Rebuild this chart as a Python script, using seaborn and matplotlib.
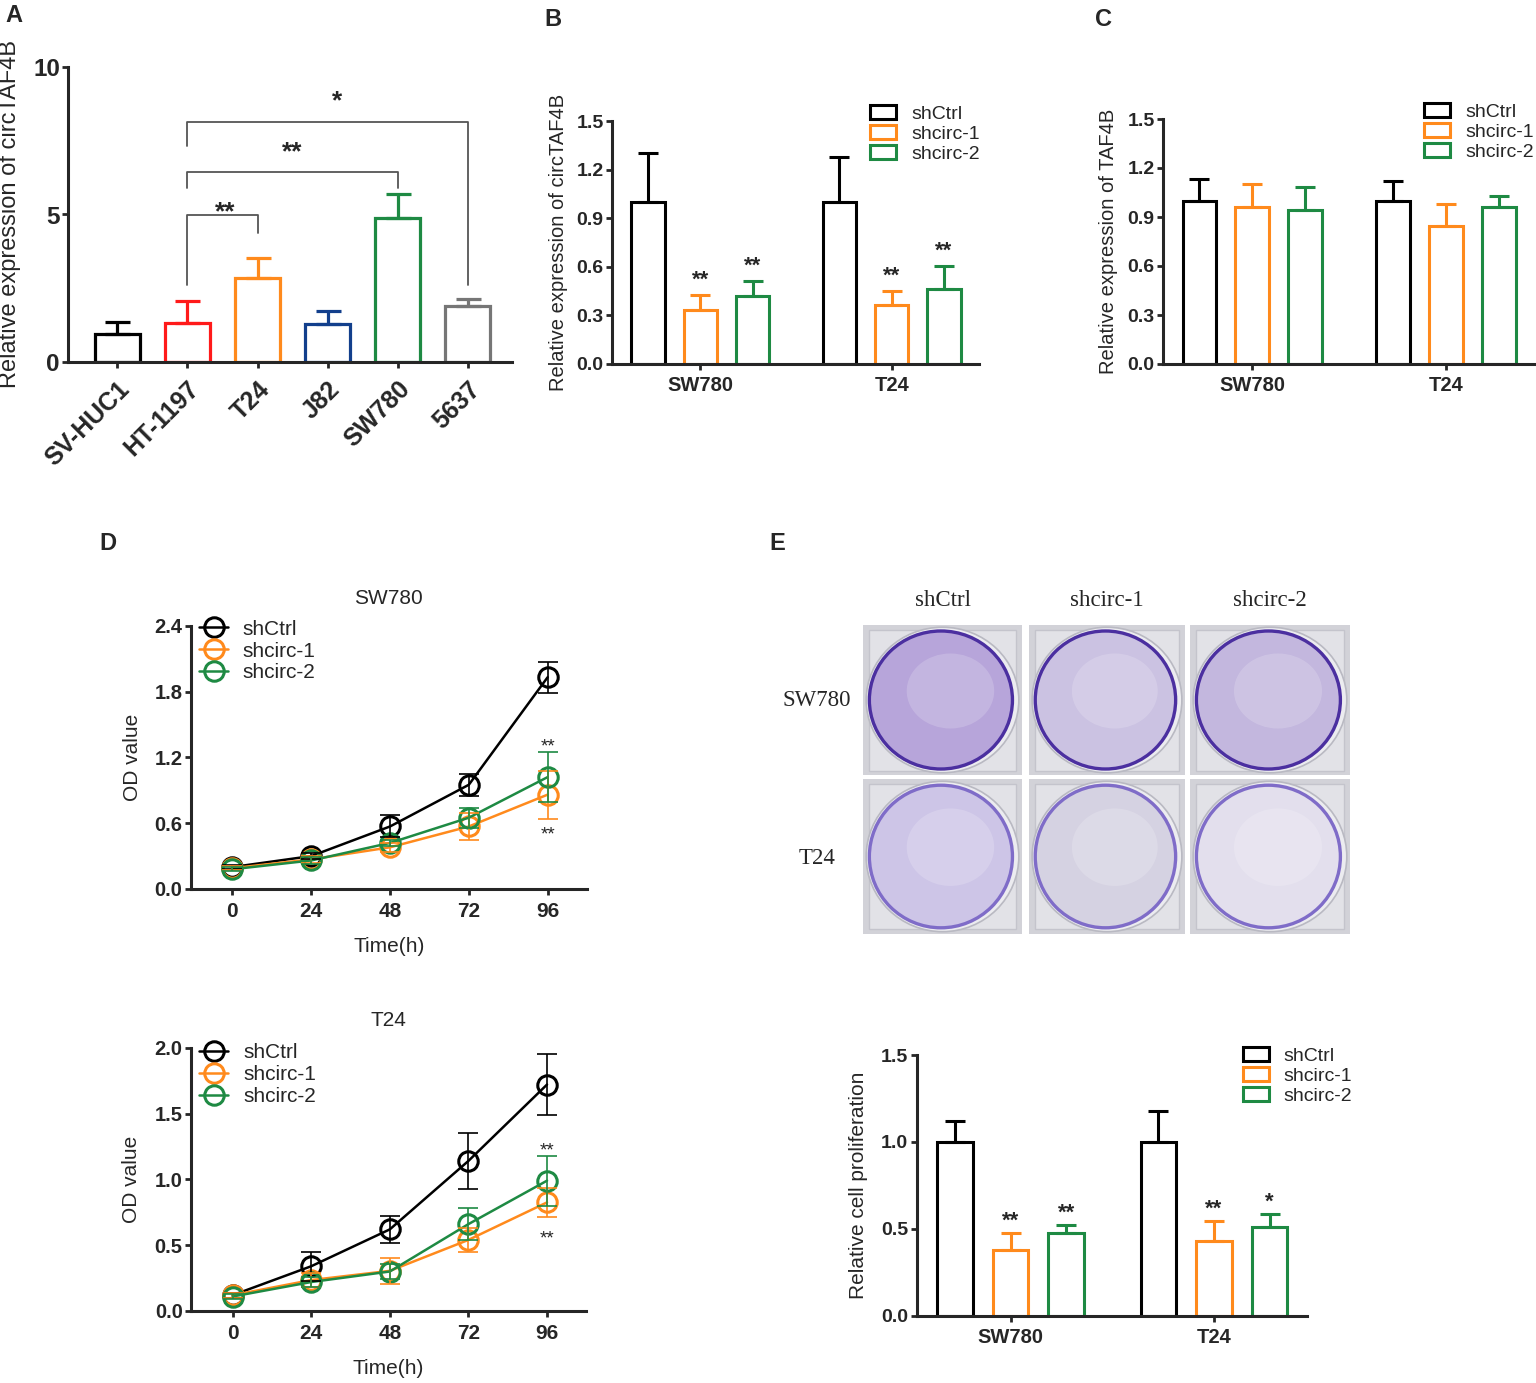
import numpy as np
import pandas as pd
import seaborn as sns
import matplotlib.pyplot as plt
from matplotlib.patches import Patch, Ellipse, Rectangle
from matplotlib.lines import Line2D
from matplotlib.container import BarContainer

# ---- data ----
groups = ['shCtrl', 'shcirc-1', 'shcirc-2']
group_colors = ['#000000', '#ff8a1c', '#1e8a43']
cell_lines = ['SW780', 'T24']

# A: circTAF4B in cell lines
a_cells = ['SV-HUC1', 'HT-1197', 'T24', 'J82', 'SW780', '5637']
a_mean = [0.97, 1.34, 2.84, 1.31, 4.87, 1.91]
a_err = [0.40, 0.74, 0.70, 0.41, 0.81, 0.24]
a_colors = ['#000000', '#ff1a1a', '#ff8a1c', '#123f8c', '#1e8a43', '#767676']
a_pairs = [(1, 2), (1, 4), (1, 5)]
a_bracket_y = [4.98, 6.43, 8.12]
a_leg_left = [2.61, 5.91, 7.33]
a_leg_right = [4.36, 5.91, 2.61]
a_stars = ['**', '**', '*']
a_star_x = [1.54, 2.49, 3.14]
a_star_y = [5.35, 7.38, 9.1]

# B: circTAF4B after knockdown
b_mean = [[1.0, 1.0], [0.333, 0.364], [0.42, 0.465]]
b_err = [[0.30, 0.28], [0.093, 0.086], [0.092, 0.14]]
b_stars = [['', ''], ['**', '**'], ['**', '**']]

# C: TAF4B after knockdown
c_mean = [[1.0, 1.0], [0.963, 0.845], [0.941, 0.961]]
c_err = [[0.13, 0.12], [0.137, 0.135], [0.143, 0.066]]
c_stars = [['', ''], ['', ''], ['', '']]

# D: CCK-8 growth curves
hours = [0, 24, 48, 72, 96]
d_sw_mean = [[0.20, 0.30, 0.57, 0.95, 1.93],
             [0.19, 0.27, 0.38, 0.57, 0.86],
             [0.18, 0.26, 0.42, 0.65, 1.02]]
d_sw_err = [[0.02, 0.03, 0.10, 0.10, 0.14],
            [0.02, 0.03, 0.04, 0.12, 0.22],
            [0.02, 0.03, 0.03, 0.09, 0.23]]
d_t24_mean = [[0.12, 0.34, 0.62, 1.14, 1.72],
              [0.12, 0.235, 0.305, 0.54, 0.825],
              [0.11, 0.22, 0.30, 0.66, 0.99]]
d_t24_err = [[0.02, 0.11, 0.10, 0.21, 0.235],
             [0.02, 0.05, 0.10, 0.09, 0.11],
             [0.02, 0.04, 0.06, 0.12, 0.19]]

# E: colony formation
e_mean = [[1.0, 1.0], [0.376, 0.428], [0.474, 0.51]]
e_err = [[0.12, 0.18], [0.102, 0.119], [0.048, 0.077]]
e_stars = [['', ''], ['**', '**'], ['**', '*']]
photo_fill = [['#b7a5da', '#cbc2e2', '#c3b7de'],
              ['#cdc5e7', '#d5d2e2', '#e3dfed']]

# ---- style ----
sns.set_style('ticks')
plt.rcParams['font.family'] = ['Liberation Sans', 'DejaVu Sans']
plt.rcParams['axes.linewidth'] = 2.2

W, H = 1536, 1383
fig = plt.figure(figsize=(W / 100, H / 100), dpi=100)


def px_axes(x0, y0, x1, y1):
    return fig.add_axes([x0 / W, 1 - y1 / H, (x1 - x0) / W, (y1 - y0) / H])


def style(ax, size):
    sns.despine(ax=ax)
    ax.tick_params(direction='out', length=4.5, width=2, labelsize=size)
    ax.tick_params(axis='x', pad=3)
    ax.tick_params(axis='y', pad=1.5)


def bold_ticks(ax):
    for t in ax.get_xticklabels() + ax.get_yticklabels():
        t.set_fontweight('bold')


def bar_legend(ax, x, y):
    handles = [Patch(facecolor='none', edgecolor=c, linewidth=2.2) for c in group_colors]
    ax.legend(handles, groups, loc='upper left', bbox_to_anchor=(x, y), frameon=False,
              fontsize=14, handlelength=1.34, handleheight=0.7, handletextpad=0.77,
              labelspacing=0.12, borderpad=0, borderaxespad=0)


def grouped_bars(ax, means, errs, stars, ylabel, yticks, star_pad):
    df = pd.DataFrame({
        'cell': [c for g in groups for c in cell_lines],
        'group': [g for g in groups for c in cell_lines],
        'value': [v for row in means for v in row],
    })
    sns.barplot(data=df, x='cell', y='value', hue='group', order=cell_lines,
                hue_order=groups, palette=group_colors, fill=False, linewidth=2.2,
                width=0.82, gap=0.36, errorbar=None, legend=False, ax=ax)
    bar_sets = [c for c in ax.containers if isinstance(c, BarContainer)]
    for gi, cont in enumerate(bar_sets):
        for ci, bar in enumerate(cont):
            x = bar.get_x() + bar.get_width() / 2
            m, e = means[gi][ci], errs[gi][ci]
            ax.errorbar(x, m, yerr=[[0], [e]], fmt='none', ecolor=group_colors[gi],
                        elinewidth=2.2, capsize=7, capthick=2.2)
            if stars[gi][ci]:
                ax.annotate(stars[gi][ci], (x, m + e), xytext=(0, star_pad),
                            textcoords='offset points', ha='center', va='baseline',
                            fontsize=16, fontweight='bold')
    ax.set_xlim(-0.462, 1.456)
    ax.set_ylim(0, 1.5)
    ax.set_yticks(yticks)
    ax.set_yticklabels([f'{t:.1f}' for t in yticks])
    ax.set_xlabel('')
    ax.set_ylabel(ylabel, fontsize=14.5)
    style(ax, 14)
    ax.tick_params(axis='x', labelsize=14.5, pad=4)
    bold_ticks(ax)


def growth(ax, means, errs, title, yticks, ymax, up_pad, down_pad, legend_y, label_x):
    df = pd.DataFrame({
        'hour': hours * len(groups),
        'group': [g for g in groups for h in hours],
        'od': [v for row in means for v in row],
    })
    sns.lineplot(data=df, x='hour', y='od', hue='group', hue_order=groups,
                 palette=group_colors, marker='o', markersize=14, linewidth=1.8,
                 errorbar=None, legend=False, ax=ax)
    for line in ax.lines:
        line.set_markerfacecolor('none')
        line.set_markeredgecolor(line.get_color())
        line.set_markeredgewidth(2.2)
    for gi in range(len(groups)):
        ax.errorbar(hours, means[gi], yerr=errs[gi], fmt='none', ecolor=group_colors[gi],
                    elinewidth=1.2, capsize=7, capthick=1.2)
    # significance at 96 h
    ax.annotate('**', (hours[-1], means[2][-1] + errs[2][-1]), xytext=(0, up_pad),
                textcoords='offset points', ha='center', va='baseline', fontsize=13.5)
    ax.annotate('**', (hours[-1], means[1][-1] - errs[1][-1]), xytext=(0, down_pad),
                textcoords='offset points', ha='center', va='baseline', fontsize=13.5)
    ax.set_xlim(-12.7, 107.9)
    ax.set_ylim(0, ymax)
    ax.set_xticks(hours)
    ax.set_yticks(yticks)
    ax.set_yticklabels([f'{t:.1f}' for t in yticks])
    ax.set_xlabel('Time(h)', fontsize=15)
    ax.set_ylabel('OD value', fontsize=15)
    ax.xaxis.set_label_coords(0.5, -0.184)
    ax.yaxis.set_label_coords(label_x, 0.5)
    ax.text(0.5, 1.105, title, transform=ax.transAxes, ha='center', va='center', fontsize=15)
    style(ax, 14.5)
    ax.tick_params(axis='x', labelsize=15, pad=5.2)
    bold_ticks(ax)
    handles = [Line2D([], [], color=c, marker='o', markersize=14, markerfacecolor='none',
                      markeredgewidth=2.2, linewidth=1.8) for c in group_colors]
    ax.legend(handles, groups, loc='upper left', bbox_to_anchor=(0.021, legend_y),
              frameon=False, fontsize=15, handlelength=1.4, handletextpad=0.7,
              labelspacing=0.14, borderpad=0, borderaxespad=0, numpoints=1)


# ---- panel A ----
ax = px_axes(68.3, 66.7, 511.7, 362.3)
sns.barplot(x=a_cells, y=a_mean, hue=a_cells, palette=a_colors, fill=False,
            linewidth=2.3, width=0.64, errorbar=None, legend=False, ax=ax)
bars = sorted(ax.patches, key=lambda p: p.get_x())
for i, bar in enumerate(bars):
    x = bar.get_x() + bar.get_width() / 2
    ax.errorbar(x, a_mean[i], yerr=[[0], [a_err[i]]], fmt='none', ecolor=a_colors[i],
                elinewidth=2.3, capsize=9, capthick=2.3)
for k, (i, j) in enumerate(a_pairs):
    ax.plot([i, i, j, j], [a_leg_left[k], a_bracket_y[k], a_bracket_y[k], a_leg_right[k]],
            color='#555555', lw=1.3)
    ax.annotate(a_stars[k], (a_star_x[k], a_star_y[k]), xytext=(0, -11),
                textcoords='offset points', ha='center', va='baseline',
                fontsize=19, fontweight='bold')
ax.set_xlim(-0.699, 5.626)
ax.set_ylim(0, 10)
ax.set_yticks([0, 5, 10])
ax.set_xticks(range(len(a_cells)))
ax.set_xticklabels(a_cells, rotation=45, ha='right', rotation_mode='anchor')
ax.set_ylabel('Relative expression of circTAF4B', fontsize=17)
ax.yaxis.set_label_coords(-0.107, 0.5)
style(ax, 17.5)
ax.tick_params(axis='x', labelsize=18, pad=6)
bold_ticks(ax)

# ---- panel B ----
ax = px_axes(612, 121, 979, 364)
grouped_bars(ax, b_mean, b_err, b_stars, 'Relative expression of circTAF4B',
             [0, 0.3, 0.6, 0.9, 1.2, 1.5], 6.5)
ax.yaxis.set_label_coords(-0.12, 0.5)
bar_legend(ax, 0.703, 1.064)

# ---- panel C ----
ax = px_axes(1163, 119, 1534, 364)
grouped_bars(ax, c_mean, c_err, c_stars, 'Relative expression of TAF4B',
             [0, 0.3, 0.6, 0.9, 1.2, 1.5], 6.5)
ax.yaxis.set_label_coords(-0.121, 0.5)
bar_legend(ax, 0.704, 1.065)

# ---- panel D ----
ax = px_axes(190.7, 625.7, 586.7, 889)
growth(ax, d_sw_mean, d_sw_err, 'SW780', [0, 0.6, 1.2, 1.8, 2.4], 2.4, 0, -15, 1.023, -0.123)
ax = px_axes(191, 1047.7, 586, 1311)
growth(ax, d_t24_mean, d_t24_err, 'T24', [0, 0.5, 1.0, 1.5, 2.0], 2.0, 0, -19, 1.017, -0.127)

# ---- panel E: colony plates ----
col_x = [(863, 1022), (1029, 1185), (1190, 1350)]
row_y = [(625, 775), (779, 934)]
for r, (y0, y1) in enumerate(row_y):
    for c, (x0, x1) in enumerate(col_x):
        pax = px_axes(x0, y0, x1, y1)
        pax.set_xlim(0, 1)
        pax.set_ylim(0, 1)
        pax.axis('off')
        pax.add_patch(Rectangle((0, 0), 1, 1, facecolor='#d2d2d8', edgecolor='none'))
        pax.add_patch(Rectangle((0.04, 0.03), 0.92, 0.94, facecolor='#e2e2e7', edgecolor='#c4c4cc', lw=1))
        pax.add_patch(Ellipse((0.5, 0.5), 0.96, 0.97, facecolor='#ececf0', edgecolor='#b9b9c2', lw=1.2))
        edge = '#4b2fa0' if r == 0 else '#7f6cc8'
        pax.add_patch(Ellipse((0.49, 0.5), 0.9, 0.92, facecolor=photo_fill[r][c], edgecolor=edge, lw=2.4))
        pax.add_patch(Ellipse((0.55, 0.56), 0.55, 0.5, facecolor='white', alpha=0.18, lw=0))
for c, name in enumerate(groups):
    fig.text((col_x[c][0] + col_x[c][1]) / 2 / W, 1 - 600 / H, name, ha='center', va='center',
             fontsize=16.5, family=['Liberation Serif', 'DejaVu Serif'])
for r, name in enumerate(cell_lines):
    fig.text(817 / W, 1 - [701, 858][r] / H, name, ha='center', va='center',
             fontsize=16.5, family=['Liberation Serif', 'DejaVu Serif'])

ax = px_axes(916.7, 1055, 1306.7, 1315.7)
grouped_bars(ax, e_mean, e_err, e_stars, 'Relative cell proliferation',
             [0, 0.5, 1.0, 1.5], 4.5)
ax.set_ylabel('Relative cell proliferation', fontsize=15)
ax.yaxis.set_label_coords(-0.125, 0.5)
bar_legend(ax, 0.836, 1.030)

# ---- panel letters ----
for letter, (x, y) in zip('ABCDE', [(14, 15), (553, 20), (1104, 20), (108, 543), (777, 543)]):
    fig.text(x / W, 1 - y / H, letter, ha='center', va='center', fontsize=17, fontweight='bold')

fig.savefig('out.png', dpi=100)
